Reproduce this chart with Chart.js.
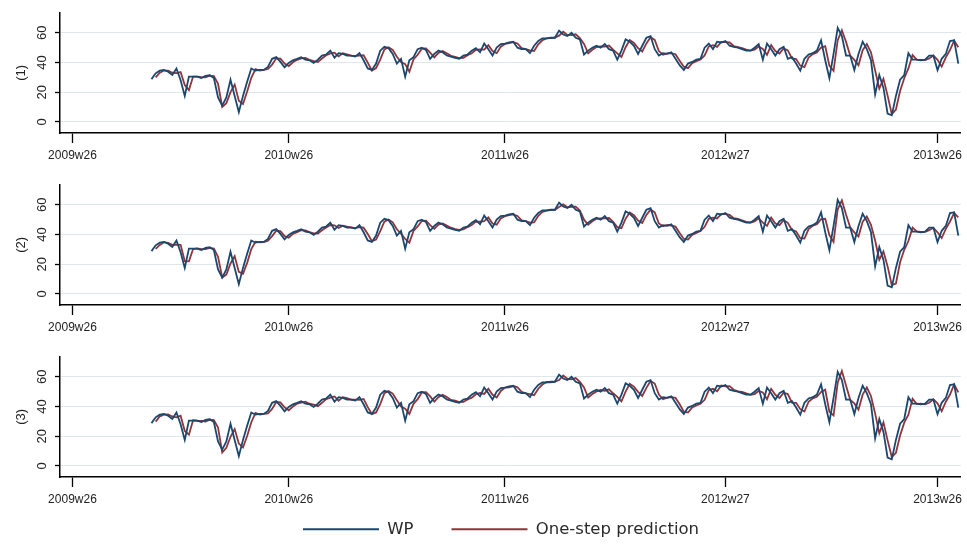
<!DOCTYPE html>
<html>
<head>
<meta charset="utf-8">
<script src="https://cdn.jsdelivr.net/npm/chart.js@4"></script>
<style>
  html, body { margin: 0; padding: 0; background: #fff; overflow: hidden; }
  #wrap { position: relative; width: 967px; height: 545px; overflow: hidden; }
  canvas { position: absolute; left: 0; }
</style>
</head>
<body>
<div id="wrap">
  <canvas id="c1" width="967" height="172" style="top:0px"></canvas>
  <canvas id="c2" width="967" height="172" style="top:172px"></canvas>
  <canvas id="c3" width="967" height="172" style="top:344px"></canvas>
  <canvas id="key" width="967" height="220" style="top:481px"></canvas>
</div>
<script>
// Weekly observations start at 2009w45 (week 19 counted from 2009w26).
const firstWeek = 19;

// Tick positions (weeks since 2009w26) and their labels
const tickWeeks = [0, 52, 104, 157, 208];
const tickLabels = ['2009w26', '2010w26', '2011w26', '2012w27', '2013w26'];
const yTicks = [0, 20, 40, 60];

// Observed WP index
const wp = [
  28.8,32.7,34.5,35.0,33.8,31.6,36.0,28.0,17.5,30.5,
  30.5,30.5,29.5,31.0,31.4,29.5,16.4,11.0,16.4,28.4,
  17.5,6.5,17.5,27.0,36.0,34.5,35.0,35.0,37.0,42.5,
  43.6,40.4,36.7,39.7,41.5,42.5,43.6,41.9,41.5,39.7,
  41.9,44.7,45.4,48.0,43.2,46.3,45.8,44.7,44.7,44.0,
  46.3,41.5,36.0,35.0,39.3,48.0,50.6,49.7,45.8,39.3,
  42.5,30.5,41.5,43.6,49.0,50.0,48.4,42.5,45.8,48.0,
  46.9,44.7,44.0,43.2,42.5,44.7,45.4,48.0,49.7,46.9,
  52.8,49.0,44.7,50.0,52.4,52.8,53.5,54.0,50.0,49.0,
  49.0,46.3,51.3,54.5,56.3,56.3,56.7,56.7,61.5,58.9,
  57.8,60.0,56.7,55.6,45.4,48.0,50.0,51.3,50.0,52.4,
  49.0,48.0,41.9,48.0,55.6,54.0,51.3,45.8,51.3,56.7,
  57.8,49.0,44.7,46.3,45.8,46.9,42.5,38.2,34.9,39.3,
  40.4,41.9,42.5,50.0,52.8,49.0,54.0,53.5,54.5,51.3,
  50.6,50.0,49.0,48.0,48.0,50.0,52.4,41.9,52.8,49.0,
  44.7,49.0,50.6,42.5,43.6,39.3,34.5,42.5,45.4,46.3,
  48.0,55.0,41.5,29.5,45.8,63.3,57.8,44.7,44.7,34.9,
  45.8,54.0,49.0,41.5,18.5,31.6,22.9,5.5,4.4,17.5,
  28.4,31.6,46.3,41.9,41.9,41.5,41.9,44.7,44.7,34.9,
  42.5,45.8,54.5,55.0,39.3
];

// One-step predictions, model (1)
const pred1 = [
  null,30.0,33.2,34.6,34.6,33.1,32.9,33.6,24.8,21.4,
  30.5,30.5,30.2,30.0,31.1,30.8,25.6,10.0,12.6,20.0,
  25.1,14.2,12.0,20.4,29.7,35.5,34.6,35.0,35.6,38.6,
  42.8,42.6,39.3,37.6,40.2,41.8,42.8,43.1,41.8,41.0,
  40.4,42.7,44.9,46.2,46.6,44.1,46.2,45.5,44.7,44.5,
  44.7,44.9,39.9,34.5,36.3,41.9,48.8,50.3,48.5,43.9,
  40.3,38.9,33.8,42.1,45.2,49.3,49.5,46.6,43.5,46.5,
  47.7,46.2,44.5,43.8,43.0,43.2,44.9,46.2,48.5,48.9,
  48.7,51.7,47.7,46.3,50.7,52.5,53.0,53.7,52.8,49.7,
  49.0,48.2,47.8,52.3,55.0,56.3,56.4,56.7,58.1,60.7,
  58.6,58.5,59.0,56.4,52.5,46.2,48.6,50.4,50.9,50.7,
  51.4,48.7,46.2,43.7,50.3,55.1,53.2,49.7,47.4,52.9,
  57.0,55.2,47.7,45.2,46.2,46.1,45.6,41.2,37.2,36.2,
  39.6,40.9,42.1,44.8,50.8,51.7,50.5,53.9,53.8,53.5,
  51.1,50.4,49.7,48.7,48.0,48.6,50.7,49.2,45.2,51.7,
  47.7,46.0,49.5,48.2,42.8,42.3,37.9,36.9,43.4,45.7,
  46.8,50.1,51.0,37.9,34.4,55.0,61.7,53.9,44.7,41.8,
  38.2,48.3,52.5,46.8,34.6,22.4,29.0,17.7,5.2,8.3,
  20.8,29.4,36.0,45.0,41.9,41.8,41.6,42.7,44.7,41.8,
  37.2,43.5,48.4,54.7,50.3
];

// One-step predictions, model (2)
const pred2 = [
  null,30.3,33.0,34.8,34.4,33.0,33.2,33.1,22.0,21.9,
  30.2,30.6,30.1,30.2,31.0,30.6,25.0,11.0,13.0,20.5,
  25.4,14.8,13.5,20.9,30.2,35.1,34.8,34.9,35.8,38.9,
  42.6,42.3,39.0,37.9,40.4,41.6,42.9,42.8,41.6,40.8,
  40.7,42.9,44.8,46.4,46.2,44.4,46.0,45.3,44.8,44.3,
  44.9,44.6,40.3,35.5,36.6,42.3,48.6,50.1,48.2,43.5,
  40.6,37.0,34.5,42.4,45.5,49.1,49.3,46.3,43.8,46.7,
  47.5,46.0,44.6,43.6,43.1,43.4,45.0,46.4,48.7,48.6,
  49.0,51.5,47.4,46.6,50.9,52.4,53.1,53.5,52.5,49.5,
  49.1,48.0,48.1,52.6,55.2,56.1,56.5,56.6,58.5,60.4,
  58.4,58.7,58.8,56.2,50.0,46.6,48.9,50.6,50.8,50.9,
  51.1,48.5,45.0,44.2,50.7,54.8,53.0,49.4,47.8,53.2,
  56.8,54.9,47.4,45.5,46.4,46.0,45.3,41.0,37.0,36.6,
  39.8,41.1,42.3,45.2,50.6,51.4,50.8,53.7,53.9,53.2,
  51.0,50.5,49.6,48.5,48.1,48.8,50.9,48.0,45.8,51.4,
  47.4,46.3,49.7,47.9,43.1,42.0,37.5,37.3,43.7,45.9,
  46.9,50.4,50.6,39.5,35.0,57.0,63.0,53.5,44.9,41.5,
  38.6,48.6,52.2,46.5,36.0,23.0,28.6,18.5,6.0,7.0,
  21.3,29.7,35.6,44.6,42.1,41.7,41.8,42.9,44.5,41.5,
  37.6,43.8,48.8,54.4,51.5
];

// One-step predictions, model (3)
const pred3 = [
  null,29.8,33.4,34.5,34.7,33.3,32.7,33.8,23.5,21.0,
  30.7,30.4,30.3,29.9,31.2,30.9,25.9,9.0,12.2,19.6,
  24.8,15.0,12.4,20.1,29.4,35.7,34.5,35.1,35.4,38.4,
  43.0,42.8,39.5,37.4,40.0,41.9,42.6,43.3,41.9,41.2,
  40.2,42.5,45.0,46.0,46.8,43.9,46.3,45.6,44.6,44.6,
  44.5,45.1,39.6,34.8,36.0,41.6,49.0,50.5,48.7,44.2,
  40.0,38.6,35.0,41.8,45.0,49.5,49.7,46.8,43.3,46.3,
  47.9,46.4,44.4,43.9,42.9,43.1,44.7,46.0,48.3,49.1,
  48.5,51.9,47.9,46.1,50.5,52.7,52.9,53.8,53.0,49.9,
  48.8,48.4,47.6,52.0,54.8,56.5,56.3,56.8,57.8,60.9,
  58.8,58.3,59.2,56.6,52.8,46.0,48.4,50.2,51.1,50.5,
  51.6,48.9,46.5,43.4,50.0,55.3,53.4,49.9,47.1,52.6,
  57.2,55.5,48.0,44.9,46.0,46.3,45.8,41.5,36.5,35.9,
  39.4,40.7,41.9,44.5,51.0,51.9,50.2,54.1,53.6,53.7,
  51.3,50.2,49.9,48.9,47.8,48.4,50.5,49.5,44.9,51.9,
  47.9,45.8,49.3,48.4,42.6,42.5,38.2,36.6,43.2,45.5,
  46.6,49.8,51.3,36.5,34.0,56.0,64.0,54.2,44.5,42.1,
  37.9,48.0,52.8,47.1,35.2,22.0,29.4,17.2,6.0,8.8,
  20.4,29.1,34.5,45.3,41.7,41.9,41.4,42.5,44.9,42.1,
  36.8,43.2,48.1,54.9,49.5
];

const WP_COLOR = '#1a476f';
const PRED_COLOR = '#90353b';
const SERIES_NAMES = ['WP', 'One-step prediction'];

function points(values) {
  return values.map((v, i) => ({ x: firstWeek + i, y: v }));
}

function panel(id, yTitle, pred, padTop) {
  return new Chart(document.getElementById(id), {
    type: 'line',
    data: {
      datasets: [
        { label: SERIES_NAMES[0], data: points(wp), borderColor: WP_COLOR,
          borderWidth: 1.8, pointRadius: 0, tension: 0 },
        { label: SERIES_NAMES[1], data: points(pred), borderColor: PRED_COLOR,
          borderWidth: 1.8, pointRadius: 0, tension: 0 }
      ]
    },
    options: {
      responsive: false,
      animation: false,
      devicePixelRatio: 1,
      layout: { padding: { top: padTop, right: 5, left: 0, bottom: 0 } },
      plugins: { tooltip: { enabled: false }, legend: { display: false } },
      scales: {
        x: {
          type: 'linear',
          min: -3,
          max: 213.6,
          afterBuildTicks: s => { s.ticks = tickWeeks.map(v => ({ value: v })); },
          afterFit: s => { s.height = 39; },
          border: { color: '#000', width: 1.5 },
          grid: { drawOnChartArea: false, tickLength: 10, tickColor: '#000', tickWidth: 1.3 },
          ticks: {
            autoSkip: false, maxRotation: 0, padding: 5, color: '#222',
            font: { family: 'Liberation Sans', size: 12 },
            callback: (v, i) => tickLabels[i]
          }
        },
        y: {
          min: -7.5,
          max: 73.5,
          afterBuildTicks: s => { s.ticks = yTicks.map(v => ({ value: v })); },
          afterFit: s => { s.width = 60; },
          border: { color: '#000', width: 1.5 },
          grid: { color: '#dfe7eb', lineWidth: 1, tickLength: 5, tickColor: '#000', tickWidth: 1.3 },
          ticks: {
            minRotation: 90, maxRotation: 90, crossAlign: 'center', padding: 5, color: '#222',
            font: { family: 'Liberation Sans', size: 13 }
          },
          title: {
            display: true, text: yTitle, color: '#222',
            padding: { top: 14, bottom: 0 },
            font: { family: 'Liberation Sans', size: 13 }
          }
        }
      }
    }
  });
}

panel('c1', '(1)', pred1, 9);
panel('c2', '(2)', pred2, 11);
panel('c3', '(3)', pred3, 11);

// Shared key below the three panels (tall canvas so the key box is never squeezed)
new Chart(document.getElementById('key'), {
  type: 'line',
  data: {
    datasets: [
      { label: SERIES_NAMES[0], data: [], borderColor: WP_COLOR, borderWidth: 1.8 },
      { label: SERIES_NAMES[1], data: [], borderColor: PRED_COLOR, borderWidth: 1.8 }
    ]
  },
  options: {
    responsive: false,
    animation: false,
    devicePixelRatio: 1,
    layout: { padding: { top: 2, left: 40, right: 5, bottom: 0 } },
    scales: { x: { display: false }, y: { display: false } },
    plugins: {
      tooltip: { enabled: false },
      legend: {
        position: 'top',
        fullSize: false,
        labels: {
          usePointStyle: true,
          pointStyle: 'line',
          pointStyleWidth: 76,
          padding: 38,
          color: '#2a2a2a',
          font: { family: 'DejaVu Sans', size: 16.5 }
        }
      }
    }
  }
});
</script>
</body>
</html>
